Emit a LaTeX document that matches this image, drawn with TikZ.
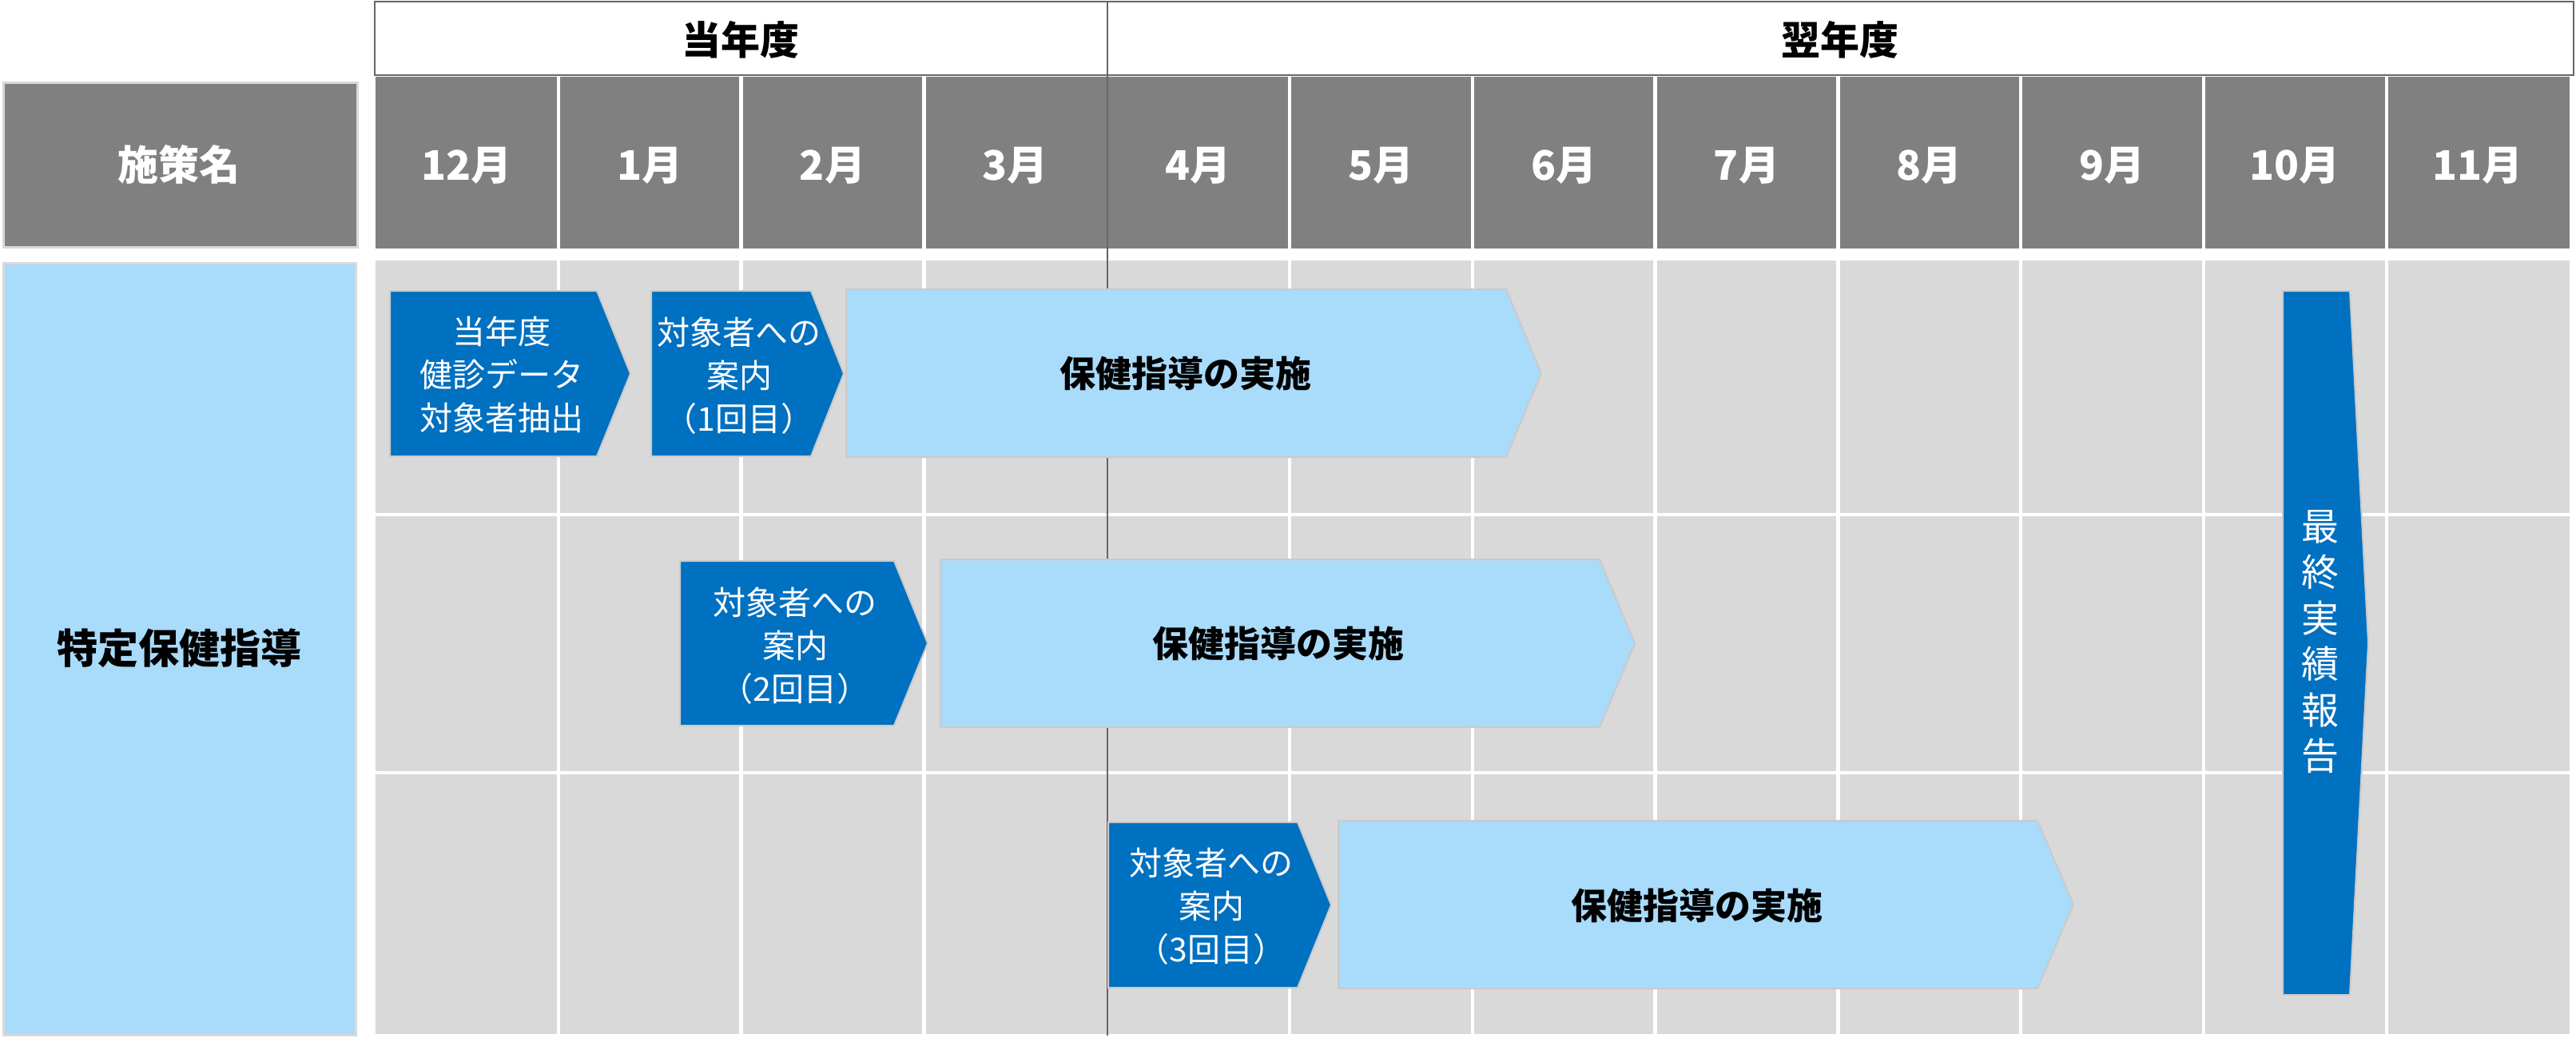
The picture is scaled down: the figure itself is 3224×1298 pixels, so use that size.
\documentclass[tikz,border=0pt]{standalone}
\usepackage{fontspec}
\setmainfont{Noto Sans CJK JP}
\definecolor{hdrgray}{HTML}{808080}
\definecolor{bodygray}{HTML}{D9D9D9}
\definecolor{boxblue}{HTML}{0070C0}
\definecolor{lightblue}{HTML}{A9DBFA}
\definecolor{edgegray}{HTML}{CACACA}
\definecolor{framegray}{HTML}{666666}
\newcommand{\chevshape}[6]{%
  \draw[#6] (#1,#4) -- (#2,#4) -- (#3,{(#4+#5)/2}) -- (#2,#5) -- (#1,#5) -- cycle;}
\tikzset{
  yearframe/.style={draw=framegray, line width=1pt, fill=white},
  yeartext/.style={font=\fontsize{24.5}{28}\selectfont\bfseries, text=black, inner sep=0pt},
  monthtext/.style={font=\fontsize{25.5}{28}\selectfont\bfseries, text=white, inner sep=0pt},
  titletext/.style={font=\fontsize{25.5}{30}\selectfont\bfseries, inner sep=0pt},
  sepline/.style={white, line width=2.2pt},
  fiscalline/.style={framegray, line width=1pt},
  darkchev/.style={fill=boxblue, draw=edgegray, line width=1pt, line join=miter},
  lightchev/.style={fill=lightblue, draw=edgegray, line width=1pt, line join=miter},
  bluetext/.style={font=\fontsize{20.5}{27}\selectfont, text=white, align=center, inner sep=0pt},
  lbtext/.style={font=\fontsize{22.5}{27}\selectfont\bfseries, text=black, inner sep=0pt},
  vtext/.style={font=\fontsize{23.5}{28.75}\selectfont, text=white, align=center, inner sep=0pt}
}
\begin{document}
\begin{tikzpicture}[x=0.5pt,y=-0.5pt]
\useasboundingbox (0,0) rectangle (3224,1298);
% year header
\draw[yearframe] (469,2) rectangle (1386,94);
\draw[yearframe] (1386,2) rectangle (3221,94);
\node[yeartext] (yr1) at (927,50) {当年度};
\node[yeartext] (yr2) at (2303,50) {翌年度};
% left headers
\draw[fill=hdrgray, draw=bodygray, line width=1.5pt] (4,103) rectangle (447,309);
\node[titletext, text=white] (sakumei) at (224,206) {施策名};
\draw[fill=lightblue, draw=bodygray, line width=1.5pt] (4,329) rectangle (445,1295);
\node[titletext, text=black] (tokutei) at (224,811) {特定保健指導};
% month band and body
\fill[hdrgray] (470,96) rectangle (3216,311);
\fill[bodygray] (470,326) rectangle (3216,1294);
\foreach \k in {1,2,3,5,6,7,8,9,10,11}{
  \draw[sepline] ({470+228.8*\k},96) -- ({470+228.8*\k},311);
  \draw[sepline] ({470+228.8*\k},326) -- ({470+228.8*\k},1294);
}
\draw[sepline] (470,644) -- (3216,644);
\draw[sepline] (470,967) -- (3216,967);
\draw[fiscalline] (1386,2) -- (1386,1296);
\foreach \m [count=\k from 0] in {12,1,2,3,4,5,6,7,8,9,10,11}{
  \node[monthtext] (mon\k) at ({470+228.8*(\k+0.5)},207) {\m 月};
}
% row 1
\chevshape{488}{747}{789}{364}{571}{darkchev}
\node[bluetext] (ext) at (628,469) {当年度\\健診データ\\対象者抽出};
\chevshape{815}{1015}{1056}{364}{571}{darkchev}
\node[bluetext] (ann1) at (925,470) {対象者への\\案内\\（1回目）};
\chevshape{1059}{1885}{1929}{362}{572}{lightchev}
\node[lbtext] (imp1) at (1484,467) {保健指導の実施};
% row 2
\chevshape{851}{1119}{1161}{702}{908}{darkchev}
\node[bluetext] (ann2) at (995,808) {対象者への\\案内\\（2回目）};
\chevshape{1177}{2002}{2046}{700}{910}{lightchev}
\node[lbtext] (imp2) at (1600,805) {保健指導の実施};
% row 3
\chevshape{1387}{1624}{1666}{1029}{1236}{darkchev}
\node[bluetext] (ann3) at (1516,1134) {対象者への\\案内\\（3回目）};
\chevshape{1675}{2550}{2595}{1027}{1237}{lightchev}
\node[lbtext] (imp3) at (2124,1133) {保健指導の実施};
% final report
\chevshape{2857}{2941}{2964}{364}{1245}{darkchev}
\node[vtext] (final) at (2904,803) {最\\終\\実\\績\\報\\告};
\end{tikzpicture}
\end{document}
